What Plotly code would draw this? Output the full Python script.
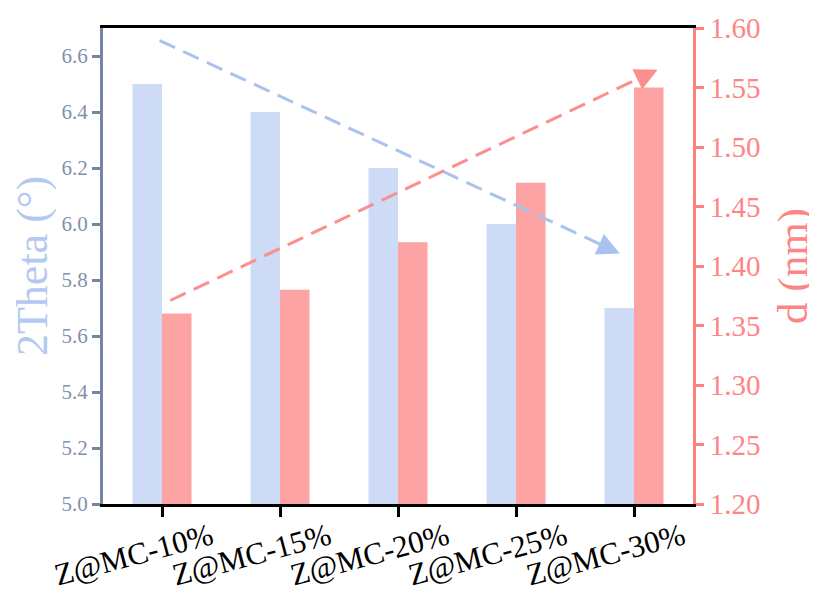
import plotly.graph_objects as go

categories = ["Z@MC-10%", "Z@MC-15%", "Z@MC-20%", "Z@MC-25%", "Z@MC-30%"]
two_theta = [6.5, 6.4, 6.2, 6.0, 5.7]
d_spacing = [1.36, 1.38, 1.42, 1.47, 1.55]
left_ticks = [5.0, 5.2, 5.4, 5.6, 5.8, 6.0, 6.2, 6.4, 6.6]
right_ticks = [1.20, 1.25, 1.30, 1.35, 1.40, 1.45, 1.50, 1.55, 1.60]

# trend arrows (annotation geometry)
blue_arrow = dict(x0=-0.02, y0=6.655, x1=3.88, y1=5.895)
red_arrow = dict(x0=0.07, y0=1.371, x1=4.20, y1=1.565)

SERIF = "Liberation Serif, Times New Roman, serif"
BLUE = "#cddbf7"
RED = "#fea3a3"
BLUE_LINE = "#a9c2ef"
RED_LINE = "#fb8f8f"
LEFT_AX = "#7685a5"
RIGHT_AX = "#ff8080"

fig = go.Figure()
fig.add_trace(go.Bar(x=categories, y=[v - 5.0 for v in two_theta], base=5.0,
                     width=0.25, offset=-0.25, marker=dict(color=BLUE, line=dict(width=0)),
                     yaxis="y", name="2Theta", showlegend=False))
fig.add_trace(go.Bar(x=categories, y=[v - 1.20 for v in d_spacing], base=1.20,
                     width=0.25, offset=0.0, marker=dict(color=RED, line=dict(width=0)),
                     yaxis="y2", name="d", showlegend=False))

shapes = [
    dict(type="line", xref="x", yref="y", x0=blue_arrow["x0"], y0=blue_arrow["y0"],
         x1=blue_arrow["x1"] - 0.12, y1=blue_arrow["y1"] + 0.024,
         line=dict(color=BLUE_LINE, width=3, dash="17px,9px")),
    dict(type="line", xref="x", yref="y2", x0=red_arrow["x0"], y0=red_arrow["y0"],
         x1=red_arrow["x1"] - 0.12, y1=red_arrow["y1"] - 0.0055,
         line=dict(color=RED_LINE, width=3, dash="17px,9px")),
]

annotations = [
    dict(x=blue_arrow["x1"], y=blue_arrow["y1"], xref="x", yref="y",
         ax=-20, ay=-9, showarrow=True, arrowhead=2, arrowsize=1.5, arrowwidth=3,
         arrowcolor=BLUE_LINE, text=""),
    dict(x=red_arrow["x1"], y=red_arrow["y1"], xref="x", yref="y2",
         ax=-20, ay=9.5, showarrow=True, arrowhead=2, arrowsize=1.5, arrowwidth=3,
         arrowcolor=RED_LINE, text=""),
]

fig.update_layout(
    width=809, height=585,
    margin=dict(l=95, r=124, t=20, b=89, autoexpand=False),
    paper_bgcolor="white", plot_bgcolor="white",
    font=dict(family=SERIF),
    barmode="overlay",
    showlegend=False,
    shapes=shapes,
    annotations=annotations,
    xaxis=dict(
        type="category", range=[-0.5, 4.5], automargin=False,
        showline=True, linecolor="black", linewidth=3, mirror=True,
        ticks="outside", ticklen=10, tickwidth=2.5, tickcolor="black",
        tickangle=-15, ticklabelshift=49, ticklabelstandoff=-10,
        tickfont=dict(family=SERIF, size=31, color="black"),
        showgrid=False, zeroline=False,
    ),
    yaxis=dict(
        range=[5.0, 6.7], tickvals=left_ticks, ticktext=[f"{v:.1f}" for v in left_ticks],
        automargin=False,
        showline=True, linecolor=LEFT_AX, linewidth=3,
        ticks="outside", ticklen=8, tickwidth=3, tickcolor=LEFT_AX,
        tickfont=dict(family=SERIF, size=21, color="#8390ab"),
        title=dict(text="2Theta (°)", font=dict(family=SERIF, size=44, color="#b3c9f2"), standoff=24),
        showgrid=False, zeroline=False,
    ),
    yaxis2=dict(
        overlaying="y", side="right", automargin=False,
        range=[1.20, 1.60], tickvals=right_ticks, ticktext=[f"{v:.2f}" for v in right_ticks],
        showline=True, linecolor=RIGHT_AX, linewidth=3,
        ticks="outside", ticklen=8, tickwidth=3, tickcolor=RIGHT_AX,
        tickfont=dict(family=SERIF, size=29, color="#ff8585"),
        title=dict(text="d (nm)", font=dict(family=SERIF, size=43, color="#ff8585"), standoff=18),
        showgrid=False, zeroline=False,
    ),
)

fig.write_html("out.html")
